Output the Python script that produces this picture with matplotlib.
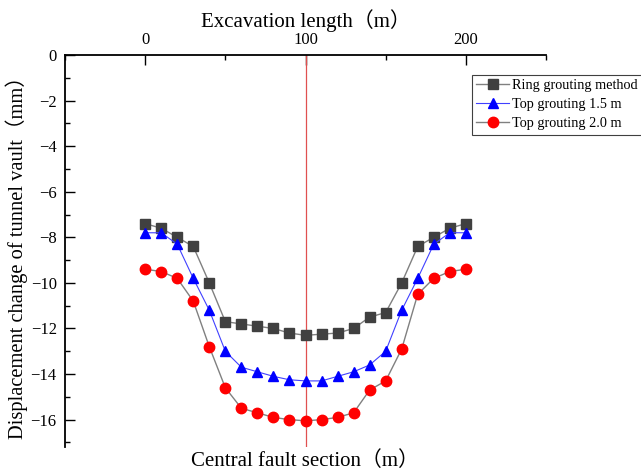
import matplotlib
matplotlib.use("Agg")
import matplotlib.pyplot as plt
from matplotlib.ticker import MultipleLocator

x = [0, 10, 20, 30, 40, 50, 60, 70, 80, 90, 100, 110, 120, 130, 140, 150, 160, 170, 180, 190, 200]
ring = [-7.4, -7.6, -8.0, -8.4, -10.0, -11.7, -11.8, -11.9, -12.0, -12.2, -12.3,
        -12.25, -12.2, -12.0, -11.5, -11.3, -10.0, -8.4, -8.0, -7.6, -7.4]
top15 = [-7.8, -7.8, -8.3, -9.8, -11.2, -13.0, -13.7, -13.9, -14.1, -14.25, -14.3,
         -14.3, -14.1, -13.9, -13.6, -13.0, -11.2, -9.8, -8.3, -7.8, -7.8]
top20 = [-9.4, -9.5, -9.8, -10.8, -12.8, -14.6, -15.5, -15.7, -15.9, -16.0, -16.05,
         -16.0, -15.9, -15.7, -14.7, -14.3, -12.9, -10.5, -9.8, -9.5, -9.4]
labels = ["Ring grouting method", "Top grouting 1.5 m", "Top grouting 2.0 m"]
fault_x = 100

serif = ["Liberation Serif", "Noto Sans CJK SC"]
plt.rcParams["font.family"] = serif
plt.rcParams["mathtext.fontset"] = "stix"

fig = plt.figure(figsize=(6.41, 4.76), dpi=100)
ax = fig.add_axes([65/641, 1-447/476, (546-65)/641, (447-55)/476])

ax.plot(x, ring, color="#808080", lw=1, marker="s", ms=6.5, mfc="#404040", mec="#404040", label=labels[0], zorder=3)
ax.plot(x, top15, color="#4040ff", lw=0.8, marker="^", ms=7.5, mfc="#0000ff", mec="#0000ff", label=labels[1], zorder=3)
ax.plot(x, top20, color="#808080", lw=1, marker="o", ms=7.5, mfc="#ff0000", mec="#ff0000", label=labels[2], zorder=3)
ax.axvline(fault_x, color="#e05050", lw=0.9, zorder=2)

ax.set_xlim(-50, 250)
ax.set_ylim(-17.2, 0)
for s in ["right", "bottom"]:
    ax.spines[s].set_visible(False)
for s in ["top", "left"]:
    ax.spines[s].set_linewidth(1.3)
ax.xaxis.tick_top()
ax.xaxis.set_label_position("top")
ax.xaxis.set_major_locator(MultipleLocator(100))
ax.xaxis.set_minor_locator(MultipleLocator(50))
ax.yaxis.set_major_locator(MultipleLocator(2))
ax.yaxis.set_minor_locator(MultipleLocator(1))
ax.tick_params(which="both", direction="in", labelsize=12, width=1)
ax.tick_params(which="major", length=7)
ax.tick_params(which="minor", length=3.5)
ax.tick_params(axis="x", pad=5)
ax.tick_params(axis="y", pad=6)

ax.set_xlabel("Excavation length（m）", fontsize=15, labelpad=4)
ax.set_ylabel("Displacement change of tunnel vault（mm）", fontsize=14.8)
ax.yaxis.set_label_coords((28 - 65) / 481, (447 - 253) / 392)
fig.text(305/641, 1-461/476, "Central fault section（m）", fontsize=15, ha="center", va="center")

leg = fig.legend(loc="upper left", bbox_to_anchor=(472/641, 1-75/476), fontsize=10.3,
                 frameon=True, fancybox=False, edgecolor="#404040", framealpha=1,
                 borderpad=0.3, labelspacing=0.42, handlelength=2.3, handletextpad=0.2, borderaxespad=0)
leg.get_frame().set_linewidth(0.8)

fig.savefig("out.png", dpi=100)
